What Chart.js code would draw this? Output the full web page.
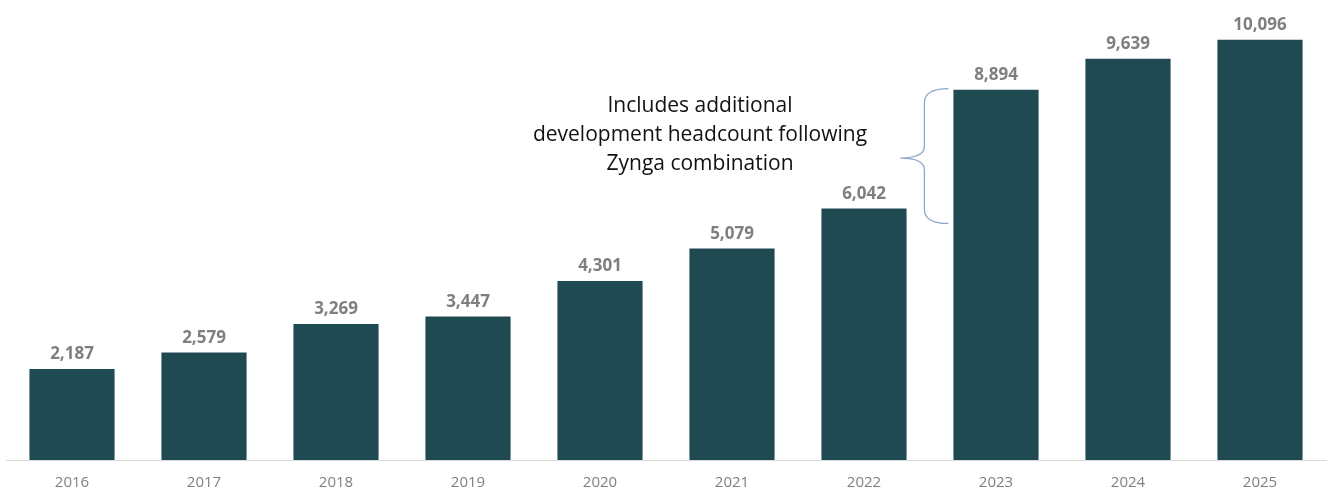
<!DOCTYPE html>
<html>
<head>
<meta charset="utf-8">
<script src="https://cdn.jsdelivr.net/npm/chart.js@4/dist/chart.umd.min.js"></script>
<style>
  body { margin: 0; background: #fff; }
  #wrap { width: 1327px; height: 493px; }
</style>
</head>
<body>
<div id="wrap"><canvas id="myChart"></canvas></div>
<script>
let years = ['2016', '2017', '2018', '2019', '2020', '2021', '2022', '2023', '2024', '2025'];
let headcount = [2187, 2579, 3269, 3447, 4301, 5079, 6042, 8894, 9639, 10096];

let note_lines = ['Includes additional', 'development headcount following', 'Zynga combination'];

let bar_color = '#1f4a51';
let label_color = '#7f7f7f';

// value labels over the bars + the brace note
const extras = {
  id: 'extras',
  afterDatasetsDraw (chart) {
    const ctx = chart.ctx;
    const meta = chart.getDatasetMeta(0);
    ctx.save();
    ctx.fillStyle = label_color;
    ctx.font = 'bold 17px "Open Sans"';
    ctx.textAlign = 'center';
    ctx.textBaseline = 'bottom';
    meta.data.forEach(function (bar, i) {
      ctx.fillText(headcount[i].toLocaleString('en-US'), bar.x, bar.y - 6);
    });

    // note text
    const xs = chart.scales.x;
    const ys = chart.scales.y;
    let cx = xs.getPixelForValue(5) - 32;
    ctx.fillStyle = '#111';
    ctx.font = '21px "Open Sans"';
    ctx.textBaseline = 'middle';
    for (let i = 0; i < note_lines.length; i++) {
      ctx.fillText(note_lines[i], cx, 106 + i * 29);
    }

    // brace spanning 2022 -> 2023 bar tops
    let top = ys.getPixelForValue(headcount[7]) - 1;
    let bottom = ys.getPixelForValue(headcount[6]) + 15;
    let mid = (top + bottom) / 2 + 2;
    let xr = meta.data[7].x - meta.data[7].width / 2 - 5;
    let xm = xr - 24;
    let xt = xr - 48;
    ctx.strokeStyle = '#8ea8c6';
    ctx.lineWidth = 1.3;
    ctx.beginPath();
    ctx.moveTo(xr, top);
    ctx.quadraticCurveTo(xm, top, xm, top + 14);
    ctx.lineTo(xm, mid - 12);
    ctx.quadraticCurveTo(xm, mid, xt, mid);
    ctx.quadraticCurveTo(xm, mid, xm, mid + 12);
    ctx.lineTo(xm, bottom - 14);
    ctx.quadraticCurveTo(xm, bottom, xr, bottom);
    ctx.stroke();
    ctx.restore();
  }
};

const data = {
  labels: years,
  datasets: [
    {
      label: 'Headcount',
      backgroundColor: bar_color,
      borderWidth: 0,
      data: headcount,
      categoryPercentage: 1,
      barPercentage: 0.645
    }
  ]
};

const config = {
  type: 'bar',
  data: data,
  options: {
    responsive: true,
    maintainAspectRatio: false,
    animation: false,
    layout: { padding: { left: 6, right: 1, top: 2, bottom: -5 } },
    plugins: {
      legend: { display: false },
      tooltip: { enabled: false }
    },
    scales: {
      x: {
        grid: { display: false },
        border: { display: true, color: '#d9d9d9', width: 1 },
        ticks: {
          color: label_color,
          font: { family: 'Open Sans', size: 15 },
          padding: 6
        }
      },
      y: {
        display: false,
        min: 0,
        max: 11000
      }
    }
  },
  plugins: [extras]
};

let myChart = new Chart(
  document.getElementById('myChart'),
  config
);
</script>
</body>
</html>
